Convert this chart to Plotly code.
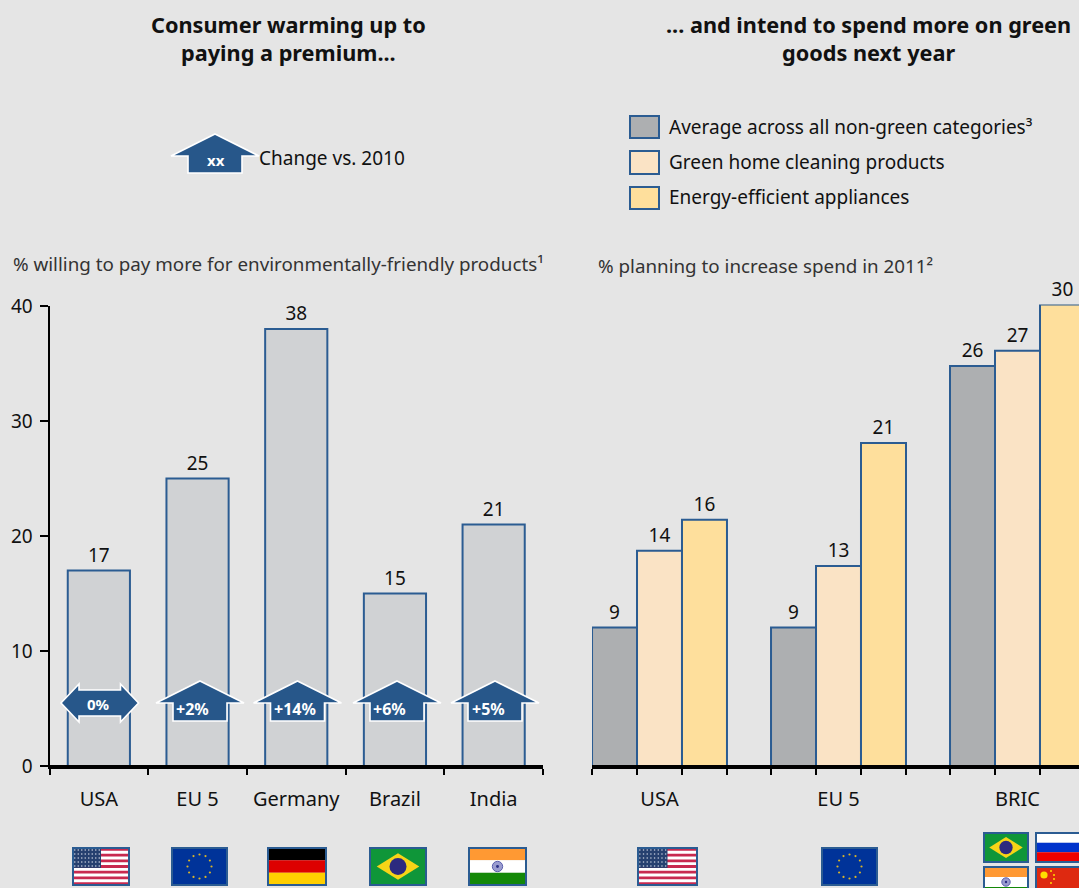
import plotly.graph_objects as go

# --- data -----------------------------------------------------------------
left_categories = ["USA", "EU 5", "Germany", "Brazil", "India"]
left_values = [17, 25, 38, 15, 21]
left_changes = ["0%", "+2%", "+14%", "+6%", "+5%"]

right_categories = ["USA", "EU 5", "BRIC"]
non_green_avg = [9, 9, 26]
green_cleaning = [14, 13, 27]
efficient_appliances = [16, 21, 30]

series_names = [
    "Average across all non-green categories³",
    "Green home cleaning products",
    "Energy-efficient appliances",
]

# --- styling --------------------------------------------------------------
W, H = 1079, 888
FONT = "Noto Sans"
BG = "#e5e5e5"
EDGE = "#2b5c92"
ARROW = "#27578a"
LEFT_FILL = "#d0d2d4"
RIGHT_FILLS = ["#adafb1", "#fae3c5", "#fedf9c"]

shapes, annotations = [], []


def px(x):
    return x / W


def py(y):
    return 1 - y / H


def rect(x0, y0, x1, y1, fill, line=None, lw=0):
    shapes.append(dict(type="rect", xref="paper", yref="paper", layer="above",
                       x0=px(x0), x1=px(x1), y0=py(y0), y1=py(y1), fillcolor=fill,
                       line=dict(color=line or fill, width=lw)))


def circle(cx, cy, r, fill, line=None, lw=0):
    shapes.append(dict(type="circle", xref="paper", yref="paper", layer="above",
                       x0=px(cx - r), x1=px(cx + r), y0=py(cy - r), y1=py(cy + r),
                       fillcolor=fill, line=dict(color=line or fill, width=lw)))


def poly(points, fill, line=None, lw=0):
    path = "M " + " L ".join(f"{px(x):.5f},{py(y):.5f}" for x, y in points) + " Z"
    shapes.append(dict(type="path", xref="paper", yref="paper", layer="above", path=path,
                       fillcolor=fill, line=dict(color=line or fill, width=lw)))


def text(x, y, s, size=19, color="#111111", anchor="center", bold=False):
    annotations.append(dict(xref="paper", yref="paper", x=px(x), y=py(y), text=s,
                            showarrow=False, xanchor=anchor, yanchor="middle",
                            align="center", font=dict(family=FONT, size=size, color=color,
                                                      weight=700 if bold else 400)))


def up_arrow(cx, tip, wing, bottom, half_wing=44, half_body=27):
    poly([(cx, tip), (cx + half_wing, wing), (cx + half_body, wing), (cx + half_body, bottom),
          (cx - half_body, bottom), (cx - half_body, wing), (cx - half_wing, wing)],
         ARROW, "white", 1.6)


def both_arrow(x0, x1, cy):
    poly([(x0, cy), (x0 + 18, cy - 19), (x0 + 18, cy - 13), (x1 - 18, cy - 13), (x1 - 18, cy - 19),
          (x1, cy), (x1 - 18, cy + 19), (x1 - 18, cy + 13), (x0 + 18, cy + 13), (x0 + 18, cy + 19)],
         ARROW, "white", 1.6)


# --- flags ----------------------------------------------------------------
def flag_frame(x0, y0, x1, y1):
    rect(x0, y0, x1, y1, "rgba(0,0,0,0)", EDGE, 2)


def flag_usa(x0, y0, x1, y1):
    rect(x0, y0, x1, y1, "white")
    band = (y1 - y0) / 13
    for i in range(0, 13, 2):
        rect(x0, y0 + i * band, x1, y0 + (i + 1) * band, "#c8294f")
    cw, ch = (x1 - x0) * 0.5, band * 7
    rect(x0, y0, x0 + cw, y0 + ch, "#26406f")
    for r in range(5):
        for c in range(8):
            circle(x0 + (c + 0.5) * cw / 8, y0 + (r + 0.5) * ch / 5, 0.8, "#c4cbdb")
    flag_frame(x0, y0, x1, y1)


def flag_eu(x0, y0, x1, y1):
    rect(x0, y0, x1, y1, "#003399")
    cx, cy = (x0 + x1) / 2, (y0 + y1) / 2
    ring = [(0, -12), (6, -10.4), (10.4, -6), (12, 0), (10.4, 6), (6, 10.4),
            (0, 12), (-6, 10.4), (-10.4, 6), (-12, 0), (-10.4, -6), (-6, -10.4)]
    for dx, dy in ring:
        circle(cx + dx, cy + dy, 1.1, "#d8b32a")
    flag_frame(x0, y0, x1, y1)


def flag_tricolor(x0, y0, x1, y1, colours):
    band = (y1 - y0) / 3
    for i, colour in enumerate(colours):
        rect(x0, y0 + i * band, x1, y0 + (i + 1) * band, colour)


def flag_germany(x0, y0, x1, y1):
    flag_tricolor(x0, y0, x1, y1, ["#000000", "#dd0000", "#ffce00"])
    flag_frame(x0, y0, x1, y1)


def flag_russia(x0, y0, x1, y1):
    flag_tricolor(x0, y0, x1, y1, ["#ffffff", "#0033cc", "#ee0000"])
    flag_frame(x0, y0, x1, y1)


def flag_india(x0, y0, x1, y1):
    band = (y1 - y0) / 3
    flag_tricolor(x0, y0, x1, y1, ["#ff9933", "#ffffff", "#138808"])
    circle((x0 + x1) / 2, y0 + 1.5 * band, band * 0.42, "#9a9ccf", "#5b5fae", 1)
    circle((x0 + x1) / 2, y0 + 1.5 * band, band * 0.12, "#2a2f86")
    flag_frame(x0, y0, x1, y1)


def flag_brazil(x0, y0, x1, y1):
    rect(x0, y0, x1, y1, "#0f9639")
    cx, cy = (x0 + x1) / 2, (y0 + y1) / 2
    hw, hh = (x1 - x0) * 0.38, (y1 - y0) * 0.36
    poly([(cx - hw, cy), (cx, cy - hh), (cx + hw, cy), (cx, cy + hh)], "#f7d417")
    circle(cx, cy, (y1 - y0) * 0.23, "#2c2a7f")
    flag_frame(x0, y0, x1, y1)


def flag_china(x0, y0, x1, y1):
    rect(x0, y0, x1, y1, "#de2910")
    circle(x0 + 8, y0 + 8, 3.6, "#ffde00")
    for dx, dy in [(15, 4), (18, 8), (18, 12), (15, 16)]:
        circle(x0 + dx, y0 + dy, 1.0, "#ffde00")
    flag_frame(x0, y0, x1, y1)


flag_usa(73, 848, 129, 885)
flag_eu(172, 848, 227, 885)
flag_germany(268, 848, 326, 885)
flag_brazil(370, 848, 426, 885)
flag_india(469, 848, 526, 885)

flag_usa(638, 848, 697, 885)
flag_eu(822, 848, 877, 885)
flag_brazil(984, 833, 1028, 862)
flag_russia(1036, 833, 1081, 862)
flag_india(984, 867, 1028, 897)
flag_china(1036, 867, 1081, 897)

# --- change arrows --------------------------------------------------------
both_arrow(61, 138.5, 703)
text(98, 704, left_changes[0], size=15, color="white", bold=True)
up_arrow_centres = [200, 297.5, 397, 495]
change_text_x = [192, 295, 389, 488]
for cx, tx, label in zip(up_arrow_centres, change_text_x, left_changes[1:]):
    up_arrow(cx, 681, 703, 721)
    text(tx, 709, label, size=16, color="white", bold=True)

up_arrow(215, 134, 156, 173, half_wing=44, half_body=27)
text(215.5, 160.5, "xx", size=15, color="white", bold=True)
text(256.5, 158, "Change vs. 2010", size=19, anchor="left")

# --- legend swatches ------------------------------------------------------
swatch_rows = [(116, 138, 127), (151, 174, 162), (187, 209, 197)]
for (y0, y1, yc), fill, name in zip(swatch_rows, RIGHT_FILLS, series_names):
    rect(630, y0, 659, y1, fill, EDGE, 2)
    text(666.5, yc, name, size=19, anchor="left")

# --- headings -------------------------------------------------------------
text(288, 38, "Consumer warming up to<br>paying a premium...", size=21.7, bold=True)
text(868, 38, "... and intend to spend more on green<br>goods next year", size=21.7, bold=True)
text(10.5, 264, "% willing to pay more for environmentally-friendly products¹", size=18.8, anchor="left", color="#333333")
text(595.5, 266, "% planning to increase spend in 2011²", size=18.8, anchor="left", color="#333333")

# Baselines of both panels, kept on top of the bar outlines
AXIS_Y = 766
LEFT_START, LEFT_END = 49.5, 543
RIGHT_START = 592
for start, end in [(LEFT_START, LEFT_END), (RIGHT_START, W)]:
    shapes.append(dict(type="line", xref="paper", yref="paper", layer="above",
                       x0=px(start), x1=px(end), y0=py(AXIS_Y + 0.5), y1=py(AXIS_Y + 0.5),
                       line=dict(color="black", width=3)))

# --- bars -----------------------------------------------------------------
fig = go.Figure()
fig.add_trace(go.Bar(
    x=left_categories, y=left_values, xaxis="x", yaxis="y",
    marker=dict(color=LEFT_FILL, line=dict(color=EDGE, width=2)),
    text=left_values, textposition="outside", textangle=0, constraintext="none",
    cliponaxis=False, textfont=dict(family=FONT, size=19, color="#111111"),
    width=0.63, showlegend=False,
))

GROUP_GAP = 0.246
bar_width = (1 - GROUP_GAP) / 3
right_positions = list(range(len(right_categories)))
for name, values, fill in zip(series_names, [non_green_avg, green_cleaning, efficient_appliances], RIGHT_FILLS):
    fig.add_trace(go.Bar(
        x=right_positions, y=values, name=name, xaxis="x2", yaxis="y2",
        marker=dict(color=fill, line=dict(color=EDGE, width=2)),
        text=values, textposition="outside", textangle=0, constraintext="none",
        cliponaxis=False, textfont=dict(family=FONT, size=19, color="#111111"),
        showlegend=False,
    ))

bar_edges = [c + k * bar_width for c in right_positions for k in (-1.5, -0.5, 0.5, 1.5)]

axis_font = dict(family=FONT, size=19, color="#111111")
label_font = dict(family=FONT, size=20, color="#111111")
AXIS_BOTTOM = py(AXIS_Y)
AXIS_TOP_LEFT = py(306)
AXIS_TOP_RIGHT = py(304.5)
GROUP_PX = 179
FIRST_CENTRE = 659.5

fig.update_layout(
    width=W, height=H, margin=dict(l=0, r=0, t=0, b=0, autoexpand=False),
    paper_bgcolor=BG, plot_bgcolor=BG,
    barmode="group", bargap=GROUP_GAP, bargroupgap=0,
    showlegend=False, shapes=shapes, annotations=annotations,
    font=dict(family=FONT),
    xaxis=dict(
        domain=[px(LEFT_START), px(LEFT_END)], anchor="y", type="category",
        range=[-0.5, 4.5], tickson="boundaries", ticks="outside", ticklen=6, tickwidth=1.5,
        tickcolor="black", showline=True, linecolor="black", linewidth=2.5, showgrid=False,
        tickfont=label_font, ticklabelstandoff=13,
    ),
    yaxis=dict(
        domain=[AXIS_BOTTOM, AXIS_TOP_LEFT], anchor="x", range=[0, 40],
        tickvals=[0, 10, 20, 30, 40], ticks="outside", ticklen=8, tickwidth=1.5,
        tickcolor="black", showline=True, linecolor="black", linewidth=2, showgrid=False,
        zeroline=False, tickfont=axis_font, ticklabelstandoff=3,
    ),
    xaxis2=dict(
        domain=[px(RIGHT_START), 1], anchor="y2",
        range=[(RIGHT_START - FIRST_CENTRE) / GROUP_PX, (W - FIRST_CENTRE) / GROUP_PX],
        tickmode="array", tickvals=right_positions, ticktext=right_categories,
        ticks="outside", ticklen=6, tickcolor="rgba(0,0,0,0)",
        minor=dict(tickmode="array", tickvals=bar_edges, ticks="outside", ticklen=6,
                   tickwidth=1.5, tickcolor="black", showgrid=False),
        showline=True, linecolor="black", linewidth=2.5, showgrid=False, zeroline=False,
        tickfont=label_font, ticklabelstandoff=7,
    ),
    yaxis2=dict(
        domain=[AXIS_BOTTOM, AXIS_TOP_RIGHT], anchor="x2", range=[0, 30],
        visible=False,
    ),
)

fig.write_html("out.html")
